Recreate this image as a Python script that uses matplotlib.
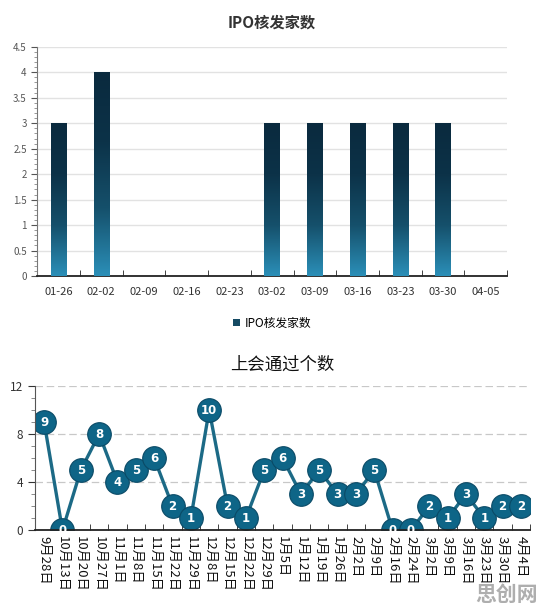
import numpy as np
import matplotlib.pyplot as plt
from matplotlib.colors import LinearSegmentedColormap
from matplotlib.ticker import MultipleLocator, FixedLocator

plt.rcParams['font.family'] = ['Noto Sans CJK SC', 'DejaVu Sans']

# IPO approvals per week
ipo_dates = ['01-26', '02-02', '02-09', '02-16', '02-23', '03-02',
             '03-09', '03-16', '03-23', '03-30', '04-05']
ipo_counts = [3, 4, 0, 0, 0, 3, 3, 3, 3, 3, 0]

# committee approvals per meeting
meet_dates = ['9月28日', '10月13日', '10月20日', '10月27日', '11月1日', '11月8日',
              '11月15日', '11月22日', '11月29日', '12月8日', '12月15日', '12月22日',
              '12月29日', '1月5日', '1月12日', '1月19日', '1月26日', '2月2日',
              '2月9日', '2月16日', '2月24日', '3月2日', '3月9日', '3月16日',
              '3月23日', '3月30日', '4月4日']
meet_counts = [9, 0, 5, 8, 4, 5, 6, 2, 1, 10, 2, 1, 5, 6, 3, 5, 3, 3, 5,
               0, 0, 2, 1, 3, 1, 2, 2]

fig = plt.figure(figsize=(5.46, 6.08), dpi=100)

# ---- top chart ----
ax1 = fig.add_axes([0.068, 0.546, 0.861, 0.377])
cmap = LinearSegmentedColormap.from_list('bar', ['#2b8fb8', '#15506b', '#0c3248', '#0a2a3e'])
x = np.arange(len(ipo_dates))
bars = ax1.bar(x, ipo_counts, width=0.36, color='#154a63', zorder=2,
               label='IPO核发家数')
grad = np.linspace(0, 1, 256).reshape(-1, 1)
for b in bars:
    if b.get_height() == 0:
        continue
    im = ax1.imshow(grad, cmap=cmap, aspect='auto', origin='lower', zorder=3,
                    extent=[b.get_x(), b.get_x() + b.get_width(), 0, b.get_height()])
    im.set_clip_path(b)
ax1.set_xlim(-0.5, len(ipo_dates) - 0.5)
ax1.set_ylim(0, 4.5)
ax1.yaxis.set_major_locator(MultipleLocator(0.5))
ax1.yaxis.set_minor_locator(MultipleLocator(0.1))
ax1.yaxis.set_major_formatter(lambda v, p: f'{v:g}')
ax1.set_xticks(x)
ax1.set_xticklabels(ipo_dates)
ax1.xaxis.set_minor_locator(FixedLocator(np.arange(-0.5, len(ipo_dates), 1)))
ax1.tick_params(axis='x', which='major', length=0, labelsize=8, colors='#333333', pad=8)
ax1.tick_params(axis='x', which='minor', length=4, direction='in', color='#222222')
ax1.tick_params(axis='y', which='major', labelsize=7, colors='#555555', length=4)
ax1.tick_params(axis='y', which='minor', length=2, color='#888888')
ax1.grid(axis='y', color='#e2e2e2', lw=1, zorder=0)
for s in ['top', 'right']:
    ax1.spines[s].set_visible(False)
ax1.spines['left'].set_color('#777777')
ax1.spines['bottom'].set_color('#222222')
ax1.spines['bottom'].set_linewidth(1.3)
ax1.set_title('IPO核发家数', fontsize=11, fontweight='bold', color='#333333', pad=14)
ax1.set_xlim(-0.5, len(ipo_dates) - 0.5)
ax1.set_ylim(0, 4.5)
ax1.legend(loc='upper center', bbox_to_anchor=(0.5, -0.13), frameon=False,
           fontsize=8.5, handlelength=0.6, handleheight=0.6, handletextpad=0.4)

# ---- bottom chart ----
ax2 = fig.add_axes([0.064, 0.128, 0.907, 0.237])
xm = np.arange(len(meet_dates))
ax2.plot(xm, meet_counts, color='#1c6a86', lw=2.4, zorder=2,
         marker='o', markersize=17, markerfacecolor='#0e6587',
         markeredgecolor='#0a4a66', markeredgewidth=0.8)
for xi, v in zip(xm, meet_counts):
    ax2.text(xi, v, str(v), ha='center', va='center', color='white',
             fontsize=8.5, fontweight='bold', zorder=4, family='DejaVu Sans')
ax2.set_xlim(-0.5, len(meet_dates) - 0.5)
ax2.set_ylim(0, 12)
ax2.yaxis.set_major_locator(MultipleLocator(4))
ax2.yaxis.set_minor_locator(MultipleLocator(1))
ax2.set_xticks(xm)
ax2.set_xticklabels(meet_dates, rotation=-90, fontsize=9.5, color='#111111')
ax2.xaxis.set_minor_locator(FixedLocator(np.arange(-0.5, len(meet_dates), 1)))
ax2.tick_params(axis='x', which='major', length=0, pad=4)
ax2.tick_params(axis='x', which='minor', length=4, direction='in', color='#222222')
ax2.tick_params(axis='y', which='major', labelsize=8.5, colors='#333333', length=5)
ax2.tick_params(axis='y', which='minor', length=3, color='#777777')
ax2.grid(axis='y', color='#c8c8c8', lw=0.9, ls=(0, (6, 3)), zorder=0)
for s in ['top', 'right']:
    ax2.spines[s].set_visible(False)
ax2.spines['left'].set_color('#555555')
ax2.spines['bottom'].set_color('#222222')
ax2.spines['bottom'].set_linewidth(1.3)
ax2.set_title('上会通过个数', fontsize=12.5, color='#111111', pad=12)

# watermark
fig.text(0.985, 0.005, '思创网', ha='right', va='bottom', fontsize=15,
         fontweight='bold', color='#9a9a9a', alpha=0.8)

fig.savefig('out.png', dpi=100)
